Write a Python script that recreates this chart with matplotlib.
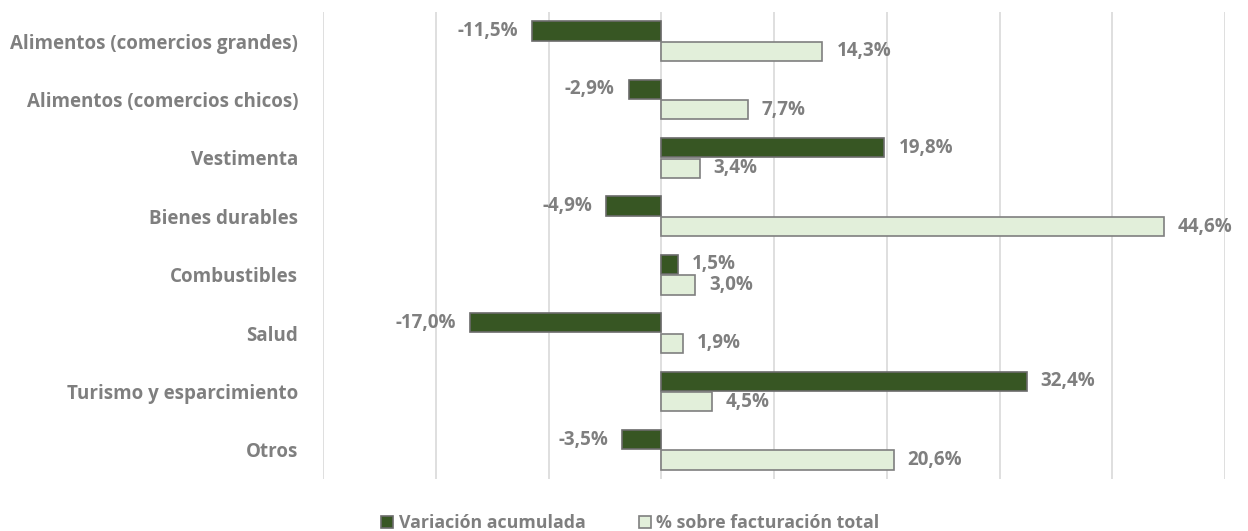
import numpy as np
from matplotlib import pyplot as plt

categorias = [
    "Alimentos (comercios grandes)",
    "Alimentos (comercios chicos)",
    "Vestimenta",
    "Bienes durables",
    "Combustibles",
    "Salud",
    "Turismo y esparcimiento",
    "Otros",
]
variacion = [-11.5, -2.9, 19.8, -4.9, 1.5, -17.0, 32.4, -3.5]
facturacion = [14.3, 7.7, 3.4, 44.6, 3.0, 1.9, 4.5, 20.6]
series = ["Variación acumulada", "% sobre facturación total"]

GRIS = "#7f7f7f"
VERDE = "#375623"
VERDE_CLARO = "#e2efda"

plt.rcParams["font.family"] = ["Open Sans", "DejaVu Sans"]


def fmt(v):
    return f"{v:.1f}%".replace(".", ",")


def main():
    fig = plt.figure(figsize=(12.48, 5.31), dpi=100)
    ax = fig.add_axes([323 / 1248, 1 - 479 / 531, 902 / 1248, 467 / 531])

    y = np.arange(len(categorias))
    h = 0.33
    b1 = ax.barh(y - h / 2 - 0.01, variacion, height=h, color=VERDE,
                 edgecolor="#6b6b6b", linewidth=1.2, label=series[0], zorder=3)
    b2 = ax.barh(y + h / 2 + 0.01, facturacion, height=h, color=VERDE_CLARO,
                 edgecolor="#7f7f7f", linewidth=1.2, label=series[1], zorder=3)

    for bar, v in zip(b1, variacion):
        yc = bar.get_y() + bar.get_height() / 2
        if v < 0:
            ax.annotate(fmt(v), (v, yc), xytext=(-10, 0),
                        textcoords="offset points", ha="right", va="center",
                        fontsize=13.5, fontweight="bold", color=GRIS)
        else:
            ax.annotate(fmt(v), (v, yc), xytext=(10, 0),
                        textcoords="offset points", ha="left", va="center",
                        fontsize=13.5, fontweight="bold", color=GRIS)
    for bar, v in zip(b2, facturacion):
        yc = bar.get_y() + bar.get_height() / 2
        ax.annotate(fmt(v), (v, yc), xytext=(10, 0),
                    textcoords="offset points", ha="left", va="center",
                    fontsize=13.5, fontweight="bold", color=GRIS)

    ax.set_xlim(-30, 50)
    ax.set_xticks(np.arange(-30, 51, 10))
    ax.set_xticklabels([])
    ax.tick_params(axis="x", length=0)
    ax.grid(axis="x", color="#d9d9d9", linewidth=1.2, zorder=0)
    ax.set_ylim(len(categorias) - 0.5, -0.5)
    ax.set_yticks(y)
    ax.set_yticklabels(categorias, fontsize=13.5, fontweight="bold", color=GRIS)
    ax.tick_params(axis="y", length=0, pad=18)
    for s in ax.spines.values():
        s.set_visible(False)

    fig.legend(loc="lower center", bbox_to_anchor=(0.505, -0.032), ncol=2,
               frameon=False, labelcolor=GRIS,
               prop={"weight": "bold", "size": 12.8},
               handlelength=0.7, handleheight=0.7, handletextpad=0.3,
               columnspacing=3.0)

    fig.savefig("out.png", dpi=100)
    plt.close(fig)


if __name__ == "__main__":
    main()
